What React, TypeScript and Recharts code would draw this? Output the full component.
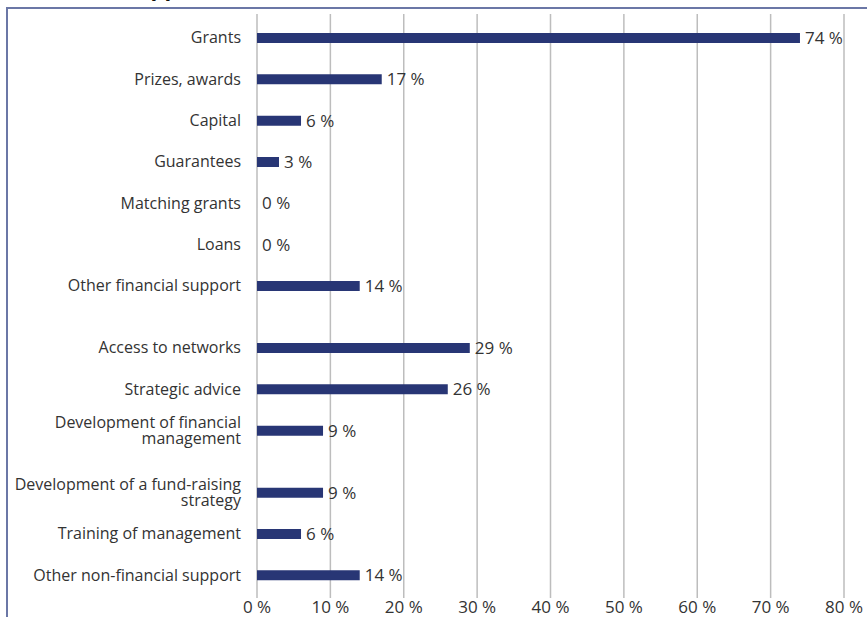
import { BarChart, Bar, XAxis, YAxis, CartesianGrid, LabelList } from 'recharts'

const categories = [
    'Grants',
    'Prizes, awards',
    'Capital',
    'Guarantees',
    'Matching grants',
    'Loans',
    'Other financial support',
    'Access to networks',
    'Strategic advice',
    'Development of financial\nmanagement',
    'Development of a fund-raising\nstrategy',
    'Training of management',
    'Other non-financial support',
]

const shares = [74, 17, 6, 3, 0, 0, 14, 29, 26, 9, 9, 6, 14]

const xTicks = [0, 10, 20, 30, 40, 50, 60, 70, 80]

// rows after which the chart leaves a wider gap
const widerGapAfter = ['Other financial support', 'Development of financial\nmanagement']

type Row = { name: string; value?: number }

const rows: Row[] = []
categories.forEach((name, i) => {
    rows.push({ name, value: shares[i] })
    if (i < categories.length - 1) {
        rows.push({ name: `__gap${rows.length}` })
        if (widerGapAfter.includes(name)) rows.push({ name: `__gap${rows.length}` })
    }
})

const FONT = '"Open Sans", sans-serif'
const TEXT = '#333333'
const NAVY = '#283675'

function CategoryTick(props: any) {
    const { x, y, payload } = props
    const name: string = payload.value
    if (name.startsWith('__gap')) return null
    const lines = name.split('\n')
    const lh = 16
    const start = -((lines.length - 1) * lh) / 2
    return (
        <text x={x} y={y} textAnchor="end" fill={TEXT} fontSize={16} fontFamily={FONT}>
            {lines.map((l, i) => (
                <tspan key={i} x={x} dy={i === 0 ? start + 5 : lh}>
                    {l}
                </tspan>
            ))}
        </text>
    )
}

export default function App() {
    return (
        <div style={{ position: 'absolute', left: 0, top: 0, width: 867, height: 617, overflow: 'hidden', background: '#fff' }}>
            <div
                style={{
                    position: 'absolute',
                    left: 124,
                    top: -24,
                    fontFamily: FONT,
                    fontWeight: 700,
                    fontSize: 22,
                    color: '#111',
                    lineHeight: '22px',
                }}
            >
                Support
            </div>
            <div
                style={{
                    position: 'absolute',
                    left: 6,
                    top: 7,
                    width: 900,
                    height: 700,
                    borderTop: '2px solid #6b77a6',
                    borderLeft: '2px solid #6b77a6',
                }}
            />
            <div style={{ position: 'absolute', left: 0, top: 0 }}>
                <BarChart
                    width={867}
                    height={617}
                    data={rows}
                    layout="vertical"
                    margin={{ top: 14, right: 23, bottom: 0, left: 0 }}
                >
                    <CartesianGrid horizontal={false} stroke="#bdbdbd" strokeWidth={1.5} />
                    <XAxis
                        type="number"
                        domain={[0, 80]}
                        ticks={xTicks}
                        tickFormatter={(v) => `${v} %`}
                        axisLine={false}
                        tickLine={false}
                        tickSize={1}
                        height={19}
                        interval={0}
                        tick={{ fill: TEXT, fontSize: 17, fontFamily: FONT }}
                    />
                    <YAxis
                        type="category"
                        dataKey="name"
                        width={257}
                        axisLine={false}
                        tickLine={false}
                        tickSize={14}
                        interval={0}
                        padding={{ top: 14, bottom: 12 }}
                        tick={<CategoryTick />}
                    />
                    <Bar
                        dataKey="value"
                        fill={NAVY}
                        barSize={10}
                        minPointSize={(v: any) => (v === 0 ? 0.01 : 0)}
                        isAnimationActive={false}
                    >
                        <LabelList
                            dataKey="value"
                            position="right"
                            offset={5}
                            formatter={(v: any) => (v == null ? '' : `${v} %`)}
                            style={{ fill: TEXT, fontSize: 17, fontFamily: FONT }}
                        />
                    </Bar>
                </BarChart>
            </div>
        </div>
    )
}
